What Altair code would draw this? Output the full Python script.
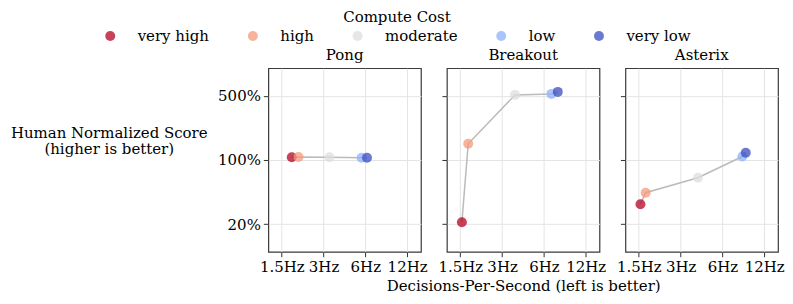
import altair as alt
import pandas as pd

games = ["Pong", "Breakout", "Asterix"]
costs = ["very high", "high", "moderate", "low", "very low"]
colors = ["#b40426", "#f49a7b", "#dddddd", "#8db0fe", "#3b4cc0"]

pong_hz = [1.77, 1.98, 3.31, 5.64, 6.17]
pong_score = [107, 108, 107, 106, 106]
breakout_hz = [1.54, 1.71, 3.72, 6.8, 7.56]
breakout_score = [21, 150, 512, 525, 552]
asterix_hz = [1.54, 1.68, 4.0, 8.35, 8.84]
asterix_score = [33, 44, 64, 109, 120]

x_ticks = [1.5, 3, 6, 12]
y_ticks = [20, 100, 500]

series = {
    "Pong": (pong_hz, pong_score),
    "Breakout": (breakout_hz, breakout_score),
    "Asterix": (asterix_hz, asterix_score),
}
rows = []
for g in games:
    hz, sc = series[g]
    for k, c in enumerate(costs):
        rows.append({"game": g, "cost": c, "order": k, "hz": hz[k], "score": sc[k]})
df = pd.DataFrame(rows)

FONT = "DejaVu Serif"
FS = 15

legend = alt.Legend(
    orient="none", legendX=-166, legendY=-58, direction="horizontal", columns=5,
    title="Compute Cost", titleAnchor="middle", titleFont=FONT, titleFontSize=FS,
    titleFontWeight="normal", titleColor="black", titlePadding=3,
    labelFont=FONT, labelFontSize=FS, labelColor="black", labelOffset=20,
    columnPadding=36, symbolType="circle", symbolSize=100, symbolOpacity=0.75,
    symbolStrokeWidth=0,
)


def panel(game, i):
    d = df[df.game == game]
    xaxis = alt.Axis(
        values=x_ticks, labelExpr="datum.value + 'Hz'",
        title="Decisions-Per-Second (left is better)" if i == 1 else None,
    )
    if i == 0:
        yaxis = alt.Axis(
            values=y_ticks, labelExpr="datum.value + '%'",
            title=["Human Normalized Score", "(higher is better)"],
            titleAngle=0, titleAlign="center", titleBaseline="middle",
            titleX=-160, titleY=64, titleLineHeight=17,
        )
    else:
        yaxis = alt.Axis(values=y_ticks, labels=False, title=None)
    x = alt.X("hz:Q", scale=alt.Scale(type="log", domain=[1.2, 15.1], nice=False), axis=xaxis)
    y = alt.Y("score:Q", scale=alt.Scale(type="log", domain=[10, 1000], nice=False), axis=yaxis)
    line = alt.Chart(d).mark_line(color="#bbbbbb", strokeWidth=1.5).encode(
        x=x, y=y, order="order:Q"
    )
    pts = alt.Chart(d).mark_circle(size=100, opacity=0.75).encode(
        x=x, y=y,
        color=alt.Color("cost:N", scale=alt.Scale(domain=costs, range=colors), legend=legend),
    )
    return alt.layer(line, pts).properties(
        width=153, height=184,
        title=alt.Title(game, font=FONT, fontSize=FS, fontWeight="normal", color="black", offset=5),
    )


chart = alt.hconcat(*[panel(g, i) for i, g in enumerate(games)], spacing=26, bounds="flush").properties(
    padding={"left": 1, "top": 2, "right": 0, "bottom": 0}
).configure_view(
    stroke="#3a3a3a", strokeWidth=1.2
).configure_axis(
    labelFont=FONT, labelFontSize=FS, labelColor="black", titleFont=FONT, titleFontSize=FS,
    titleFontWeight="normal", titleColor="black", grid=True, gridColor="#e4e4e4",
    gridWidth=1, domain=False, tickColor="#333333", tickSize=5, labelPadding=3,
)

chart.save("out.html", embed_options={"renderer": "svg", "actions": False})
